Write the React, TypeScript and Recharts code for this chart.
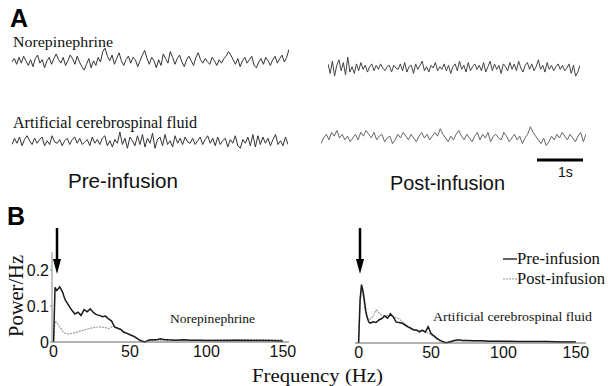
import React from 'react';
import { LineChart, Line, XAxis, YAxis } from 'recharts';

// Frequency grid (Hz) for the power spectra
const freqHz = [
  0, 1, 2, 3, 4, 5, 6, 7, 8, 9, 10,
  12, 14, 16, 18, 20, 22, 24, 26, 28, 30,
  32, 34, 36, 38, 40, 42, 44, 46, 48, 50,
  52, 54, 56, 58, 60,
  62, 64, 66, 68, 70, 72,
  75, 80, 85, 90, 95, 100,
  110, 120, 130, 140, 150,
];

const nePre = [
  0, 0.152, 0.143, 0.147, 0.153, 0.146, 0.138, 0.124, 0.114, 0.108, 0.101,
  0.088, 0.078, 0.083, 0.074, 0.09, 0.084, 0.092, 0.082, 0.076, 0.074,
  0.07, 0.072, 0.064, 0.058, 0.041, 0.038, 0.035, 0.027, 0.024, 0.02,
  0.017, 0.012, 0.006, 0.002, 0.0,
  0.005, 0.006, 0.006, 0.007, 0.009, 0.007,
  0.006, 0.005, 0.006, 0.005, 0.005, 0.004,
  0.004, 0.005, 0.004, 0.004, 0.003,
];
const nePost = [
  0, 0.058, 0.055, 0.048, 0.042, 0.036, 0.03, 0.026, 0.024, 0.023, 0.022,
  0.024, 0.026, 0.028, 0.031, 0.033, 0.036, 0.038, 0.04, 0.041, 0.042,
  0.041, 0.04, 0.037, 0.042, 0.045, 0.038, 0.033, 0.028, 0.025, 0.02,
  0.015, 0.011, 0.006, 0.003, 0.001,
  0.003, 0.004, 0.004, 0.005, 0.005, 0.005,
  0.004, 0.005, 0.005, 0.004, 0.005, 0.005,
  0.006, 0.006, 0.007, 0.006, 0.006,
];
const acsfPre = [
  0, 0.12, 0.162, 0.145, 0.118, 0.088, 0.07, 0.058, 0.055, 0.057, 0.059,
  0.057, 0.064, 0.068, 0.075, 0.069, 0.081, 0.072, 0.058, 0.057, 0.055,
  0.05, 0.045, 0.041, 0.036, 0.036, 0.031, 0.036, 0.03, 0.045, 0.026,
  0.02, 0.013, 0.008, 0.004, 0.001,
  0.002, 0.004, 0.007, 0.008, 0.008, 0.007,
  0.007, 0.006, 0.006, 0.005, 0.005, 0.005,
  0.004, 0.004, 0.004, 0.003, 0.003,
];
const acsfPost = [
  0, 0.105, 0.155, 0.135, 0.105, 0.08, 0.07, 0.065, 0.066, 0.07, 0.074,
  0.092, 0.084, 0.077, 0.076, 0.076, 0.075, 0.073, 0.07, 0.067, 0.06,
  0.053, 0.047, 0.042, 0.038, 0.035, 0.034, 0.033, 0.032, 0.028, 0.023,
  0.017, 0.011, 0.006, 0.003, 0.001,
  0.003, 0.005, 0.006, 0.006, 0.006, 0.006,
  0.006, 0.005, 0.005, 0.005, 0.005, 0.004,
  0.004, 0.004, 0.004, 0.004, 0.004,
];

const xTicks = [0, 50, 100, 150];
const yTicks = [0, 0.1, 0.2];

// EEG traces (arbitrary units)
const traceNePre = [0,3,-2,4,-1,5,1,-3,2,-4,3,6,-1,2,-5,1,4,-2,3,7,2,-1,4,-3,1,6,3,-2,5,0,-4,-7,-2,3,-5,1,-3,4,0,9,12,5,1,6,-2,3,8,1,-3,2,5,-1,4,2,-4,1,6,10,3,-2,4,1,-5,2,-3,7,3,-1,9,4,-2,3,6,0,-4,2,5,1,-3,4,8,2,-1,3,0,-2,4,1,-3,2,-1,3,5,9,6,2,-2,3,-4,1,4,-1,2,5,-3,-5,0,3,-2,4,1,-3,2,5,-1,3,6,0,4,11];
const traceNePost = [3,-4,5,-6,2,6,-2,4,-5,8,-3,1,-4,3,-2,4,-1,2,-3,1,3,-2,2,-1,3,0,-2,1,2,-3,2,0,-1,3,-2,4,-3,1,2,-4,3,-1,2,5,-2,1,-3,2,0,4,-2,1,-1,3,-2,2,-4,1,3,-2,5,-1,2,-3,4,-2,1,3,-1,2,-2,4,-3,1,5,-2,3,-1,2,-4,3,1,-2,4,-1,3,-2,5,0,-3,2,4,-1,3,-2,1,6,-1,2,-3,4,-1,2,-2,1,3,-1,2,-2,0,3,-4,2,-6,-3,2];
const traceAcsfPre = [-2,3,-1,4,-3,2,5,1,-2,3,-1,2,4,-3,1,-2,5,0,-1,2,-3,1,3,-2,2,4,-1,3,-2,0,2,-3,4,-1,2,-2,3,5,-3,1,-4,2,-1,8,-2,3,-5,4,1,-3,5,-2,6,-4,3,-1,7,-5,2,4,-3,6,-2,1,-4,5,-1,3,-2,4,0,-1,3,-2,1,4,-2,2,5,-1,3,-3,4,-2,1,3,-4,2,-1,5,-3,-5,2,-1,4,-3,6,-4,5,-2,4,-1,3,-3,2,6,-2,1,-3,4,-2];
const traceAcsfPost = [-3,0,2,-1,3,1,4,0,2,-1,1,-2,0,2,-1,3,1,4,2,0,3,-1,1,2,-2,0,1,-3,-1,2,0,3,1,-1,2,0,-2,1,3,0,2,-1,1,3,1,5,2,0,-2,1,-1,2,4,1,-1,2,0,-2,1,3,-1,2,0,3,-2,1,2,0,-1,3,1,-2,0,2,-1,1,-3,0,2,6,3,1,-1,-3,0,-4,-2,1,-1,2,0,3,1,-1,2,0,-2,1,3,-2,2];

const SANS = 'Liberation Sans, Arial, sans-serif';
const SERIF = 'Liberation Serif, Times New Roman, serif';

function Trace({ left, top, width, height, values, color, domain }: any) {
  const data = values.map((v: number, i: number) => ({ i, v }));
  return (
    <div style={{ position: 'absolute', left, top }}>
      <LineChart width={width} height={height} data={data} margin={{ top: 0, right: 0, bottom: 0, left: 0 }}>
        <XAxis dataKey="i" type="number" hide domain={[0, values.length - 1]} />
        <YAxis hide domain={domain} allowDataOverflow />
        <Line dataKey="v" type="linear" stroke={color} strokeWidth={1} dot={false} isAnimationActive={false} />
      </LineChart>
    </div>
  );
}

function Spectrum({ left, top, width, height, pre, post, domain, showY, margin }: any) {
  const data = freqHz.map((f, i) => ({ f, pre: pre[i], post: post[i] }));
  return (
    <div style={{ position: 'absolute', left, top }}>
      <LineChart width={width} height={height} data={data} margin={margin}>
        <XAxis
          dataKey="f"
          type="number"
          domain={domain}
          ticks={xTicks}
          allowDataOverflow
          interval={0}
          height={30}
          axisLine={{ stroke: '#666', strokeWidth: 1 }}
          tickLine={false}
          tickSize={4}
          tickMargin={0}
          tick={{ fontSize: 16, fill: '#111', fontFamily: SANS }}
        />
        <YAxis
          type="number"
          domain={[0, 0.25]}
          ticks={showY ? yTicks : []}
          width={showY ? 52 : 0}
          axisLine={{ stroke: '#888', strokeWidth: 1 }}
          tickLine={showY ? { stroke: '#888' } : false}
          tickSize={2}
          tickMargin={1}
          tick={showY ? { fontSize: 16, fill: '#111', fontFamily: SANS } : false}
        />
        <Line dataKey="post" type="linear" stroke="#9a9a9a" strokeWidth={1.2} strokeDasharray="2 1" dot={false} isAnimationActive={false} />
        <Line dataKey="pre" type="linear" stroke="#1a1a1a" strokeWidth={1.5} dot={false} isAnimationActive={false} />
      </LineChart>
    </div>
  );
}

function Arrow({ x }: { x: number }) {
  return (
    <g>
      <line x1={x} y1={228} x2={x} y2={262} stroke="#000" strokeWidth={2.5} />
      <polygon points={`${x - 4},259 ${x + 4},259 ${x},274`} fill="#000" />
    </g>
  );
}

export default function App() {
  return (
    <div style={{ position: 'absolute', left: 0, top: 0, width: 608, height: 386, background: '#fff', overflow: 'hidden' }}>
      <Trace left={12} top={47} width={277} height={30} values={traceNePre} color="#333" domain={[-13, 13]} />
      <Trace left={328} top={53} width={252} height={30} values={traceNePost} color="#444" domain={[-11, 11]} />
      <Trace left={12} top={127} width={276} height={30} values={traceAcsfPre} color="#333" domain={[-12, 12]} />
      <Trace left={321} top={123} width={265} height={30} values={traceAcsfPost} color="#666" domain={[-8, 8]} />

      <Spectrum left={0} top={200} width={300} height={186} pre={nePre} post={nePost} domain={[-1, 154]} showY
        margin={{ top: 52, right: 11, bottom: 14, left: 0 }} />
      <Spectrum left={300} top={200} width={308} height={186} pre={acsfPre} post={acsfPost} domain={[-2.5, 157]} showY={false}
        margin={{ top: 53, right: 22, bottom: 13, left: 55 }} />

      <svg width={608} height={386} style={{ position: 'absolute', left: 0, top: 0, pointerEvents: 'none' }}>
        <text x={10} y={27} fontFamily={SANS} fontWeight="bold" fontSize={25} fill="#000">A</text>
        <text x={7} y={225} fontFamily={SANS} fontWeight="bold" fontSize={25} fill="#000">B</text>

        <text x={13} y={46.5} fontFamily={SERIF} fontSize={15} fill="#111" textLength={100} lengthAdjust="spacingAndGlyphs">Norepinephrine</text>
        <text x={13} y={128} fontFamily={SERIF} fontSize={16} fill="#111" textLength={184} lengthAdjust="spacingAndGlyphs">Artificial cerebrospinal fluid</text>

        <line x1={537} y1={160} x2={583} y2={160} stroke="#000" strokeWidth={3} />
        <text x={558} y={177} fontFamily={SANS} fontSize={14} fill="#111">1s</text>

        <text x={68} y={188} fontFamily={SANS} fontSize={21} fill="#111" textLength={110} lengthAdjust="spacingAndGlyphs">Pre-infusion</text>
        <text x={390} y={190} fontFamily={SANS} fontSize={21} fill="#111" textLength={115} lengthAdjust="spacingAndGlyphs">Post-infusion</text>

        <Arrow x={57} />
        <Arrow x={360} />

        <text x={0} y={0} transform="translate(23,296) rotate(-90)" textAnchor="middle" fontFamily={SERIF} fontSize={20} fill="#111" textLength={82} lengthAdjust="spacingAndGlyphs">Power/Hz</text>
        <text x={252} y={382} fontFamily={SERIF} fontSize={19} fill="#111" textLength={131} lengthAdjust="spacingAndGlyphs">Frequency (Hz)</text>

        <text x={170} y={323} fontFamily={SERIF} fontSize={13} fill="#111" textLength={85} lengthAdjust="spacingAndGlyphs">Norepinephrine</text>
        <text x={433} y={321} fontFamily={SERIF} fontSize={13} fill="#111" textLength={159} lengthAdjust="spacingAndGlyphs">Artificial cerebrospinal fluid</text>

        <line x1={503} y1={259} x2={517} y2={259} stroke="#111" strokeWidth={1.3} />
        <text x={517} y={264} fontFamily={SERIF} fontSize={16} fill="#111" textLength={83} lengthAdjust="spacingAndGlyphs">Pre-infusion</text>
        <line x1={503} y1={279} x2={517} y2={279} stroke="#9a9a9a" strokeWidth={1.2} strokeDasharray="2 1" />
        <text x={517} y={284} fontFamily={SERIF} fontSize={16} fill="#111" textLength={88} lengthAdjust="spacingAndGlyphs">Post-infusion</text>
      </svg>
    </div>
  );
}
